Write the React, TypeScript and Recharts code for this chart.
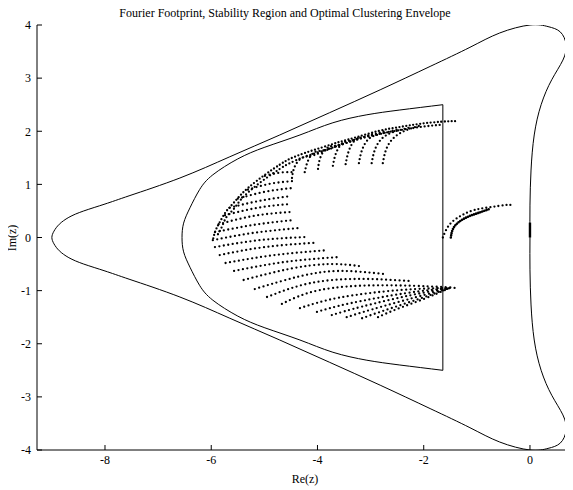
import React from "react";
import { ComposedChart, Line, XAxis, YAxis } from "recharts";

interface Pt {
	x: number;
	y: number;
}

const xTicks = [-8, -6, -4, -2, 0];
const yTicks = [-4, -3, -2, -1, 0, 1, 2, 3, 4];

// stability region boundary (outer curve)
const stabilityBoundary: Pt[] = [
	{ x: 0, y: 0 }, { x: 0, y: 0.61 }, { x: 0.02, y: 1.27 }, { x: 0.08, y: 1.93 },
	{ x: 0.21, y: 2.5 }, { x: 0.41, y: 2.97 }, { x: 0.62, y: 3.34 }, { x: 0.68, y: 3.63 },
	{ x: 0.57, y: 3.87 }, { x: 0.34, y: 3.97 }, { x: 0, y: 4 }, { x: -0.57, y: 3.85 },
	{ x: -1.13, y: 3.58 }, { x: -1.88, y: 3.22 }, { x: -2.82, y: 2.78 }, { x: -3.77, y: 2.35 },
	{ x: -4.71, y: 1.93 }, { x: -5.65, y: 1.52 }, { x: -6.59, y: 1.12 }, { x: -7.53, y: 0.79 },
	{ x: -8.0, y: 0.63 }, { x: -8.4, y: 0.5 }, { x: -8.68, y: 0.38 }, { x: -8.86, y: 0.25 },
	{ x: -8.96, y: 0.12 }, { x: -9.0, y: 0 },
	{ x: -8.96, y: -0.12 }, { x: -8.86, y: -0.25 }, { x: -8.68, y: -0.38 }, { x: -8.4, y: -0.5 },
	{ x: -8.0, y: -0.63 }, { x: -7.53, y: -0.79 },
	{ x: -6.59, y: -1.12 }, { x: -5.65, y: -1.52 }, { x: -4.71, y: -1.93 }, { x: -3.77, y: -2.35 },
	{ x: -2.82, y: -2.78 }, { x: -1.88, y: -3.22 }, { x: -1.13, y: -3.58 }, { x: -0.57, y: -3.85 },
	{ x: 0, y: -4 }, { x: 0.34, y: -3.97 }, { x: 0.57, y: -3.87 }, { x: 0.68, y: -3.63 },
	{ x: 0.62, y: -3.34 }, { x: 0.41, y: -2.97 }, { x: 0.21, y: -2.5 }, { x: 0.08, y: -1.93 },
	{ x: 0.02, y: -1.27 }, { x: 0, y: -0.61 }, { x: 0, y: 0 },
];

// optimal clustering envelope
const envelopeCurve: Pt[] = [
	{ x: -1.64, y: 2.5 }, { x: -2.45, y: 2.4 }, { x: -3.07, y: 2.31 }, { x: -3.71, y: 2.16 },
	{ x: -4.33, y: 1.93 }, { x: -4.99, y: 1.7 }, { x: -5.5, y: 1.48 }, { x: -5.97, y: 1.18 },
	{ x: -6.22, y: 0.9 }, { x: -6.4, y: 0.56 }, { x: -6.52, y: 0.27 }, { x: -6.55, y: 0 },
	{ x: -6.52, y: -0.27 }, { x: -6.4, y: -0.56 }, { x: -6.22, y: -0.9 }, { x: -5.97, y: -1.18 },
	{ x: -5.5, y: -1.48 }, { x: -4.99, y: -1.7 }, { x: -4.33, y: -1.93 }, { x: -3.71, y: -2.16 },
	{ x: -3.07, y: -2.31 }, { x: -2.45, y: -2.4 }, { x: -1.64, y: -2.5 },
];
const envelopeEdge: Pt[] = [{ x: -1.64, y: 2.5 }, { x: -1.64, y: -2.5 }];

// fourier footprint
const rimOuter: Pt[] = [
	{ x: -1.41, y: 2.19 }, { x: -1.66, y: 2.18 }, { x: -2.07, y: 2.14 }, { x: -2.45, y: 2.08 },
	{ x: -2.83, y: 2.01 }, { x: -3.26, y: 1.89 }, { x: -3.58, y: 1.8 }, { x: -3.9, y: 1.7 },
	{ x: -4.24, y: 1.59 }, { x: -4.52, y: 1.48 }, { x: -4.71, y: 1.37 }, { x: -4.99, y: 1.18 },
	{ x: -5.31, y: 0.93 }, { x: -5.5, y: 0.74 }, { x: -5.65, y: 0.57 }, { x: -5.74, y: 0.46 },
	{ x: -5.86, y: 0.25 }, { x: -5.93, y: 0.1 }, { x: -5.97, y: -0.05 },
];
const rimInner: Pt[] = [
	{ x: -1.7, y: 2.12 }, { x: -2.07, y: 2.08 }, { x: -2.45, y: 2.02 }, { x: -2.83, y: 1.95 },
	{ x: -3.26, y: 1.84 }, { x: -3.58, y: 1.74 }, { x: -3.9, y: 1.63 }, { x: -4.24, y: 1.52 },
	{ x: -4.52, y: 1.4 }, { x: -4.71, y: 1.29 }, { x: -4.99, y: 1.1 }, { x: -5.27, y: 0.88 },
	{ x: -5.46, y: 0.69 }, { x: -5.59, y: 0.52 }, { x: -5.71, y: 0.39 }, { x: -5.8, y: 0.2 },
	{ x: -5.88, y: 0.05 },
];

const hangingArcs: Pt[][] = [
	[{ x: -4.48, y: 1.12 }, { x: -4.43, y: 1.33 }, { x: -4.29, y: 1.5 }, { x: -4.07, y: 1.55 }, { x: -3.73, y: 1.7 }],
	[{ x: -4.24, y: 1.23 }, { x: -4.18, y: 1.44 }, { x: -4.05, y: 1.61 }, { x: -3.82, y: 1.65 }, { x: -3.48, y: 1.8 }],
	[{ x: -3.99, y: 1.29 }, { x: -3.94, y: 1.52 }, { x: -3.8, y: 1.7 }, { x: -3.58, y: 1.74 }, { x: -3.24, y: 1.87 }],
	[{ x: -3.71, y: 1.35 }, { x: -3.65, y: 1.59 }, { x: -3.52, y: 1.78 }, { x: -3.3, y: 1.84 }, { x: -2.96, y: 1.95 }],
	[{ x: -3.47, y: 1.38 }, { x: -3.41, y: 1.63 }, { x: -3.28, y: 1.84 }, { x: -3.05, y: 1.91 }, { x: -2.71, y: 2.01 }],
	[{ x: -3.22, y: 1.4 }, { x: -3.16, y: 1.65 }, { x: -3.03, y: 1.86 }, { x: -2.81, y: 1.95 }, { x: -2.47, y: 2.04 }],
	[{ x: -2.98, y: 1.4 }, { x: -2.92, y: 1.65 }, { x: -2.79, y: 1.86 }, { x: -2.56, y: 1.99 }, { x: -2.22, y: 2.08 }],
	[{ x: -2.77, y: 1.4 }, { x: -2.71, y: 1.65 }, { x: -2.58, y: 1.86 }, { x: -2.35, y: 2.01 }, { x: -2.02, y: 2.12 }],
];

const footprintRows: Pt[][] = [
	[{ x: -4.99, y: 1.16 }, { x: -4.71, y: 1.22 }, { x: -4.48, y: 1.23 }],
	[{ x: -5.31, y: 0.9 }, { x: -4.9, y: 1.01 }, { x: -4.48, y: 1.06 }],
	[{ x: -5.5, y: 0.73 }, { x: -4.99, y: 0.86 }, { x: -4.48, y: 0.93 }],
	[{ x: -5.65, y: 0.56 }, { x: -5.09, y: 0.69 }, { x: -4.5, y: 0.78 }],
	[{ x: -5.74, y: 0.42 }, { x: -5.12, y: 0.56 }, { x: -4.52, y: 0.63 }],
	[{ x: -5.86, y: 0.25 }, { x: -5.18, y: 0.41 }, { x: -4.5, y: 0.48 }],
	[{ x: -5.93, y: 0.1 }, { x: -5.18, y: 0.24 }, { x: -4.43, y: 0.33 }],
	[{ x: -5.97, y: -0.05 }, { x: -5.18, y: 0.09 }, { x: -4.33, y: 0.18 }],
	[{ x: -5.93, y: -0.18 }, { x: -5.09, y: -0.05 }, { x: -4.2, y: 0.01 }],
	[{ x: -5.84, y: -0.33 }, { x: -4.99, y: -0.18 }, { x: -4.05, y: -0.1 }],
	[{ x: -5.73, y: -0.48 }, { x: -4.8, y: -0.33 }, { x: -3.82, y: -0.24 }],
	[{ x: -5.57, y: -0.63 }, { x: -4.61, y: -0.46 }, { x: -3.62, y: -0.37 }],
	[{ x: -5.39, y: -0.8 }, { x: -4.52, y: -0.59 }, { x: -3.77, y: -0.5 }, { x: -3.2, y: -0.54 }],
	[{ x: -5.18, y: -0.97 }, { x: -4.33, y: -0.73 }, { x: -3.58, y: -0.63 }, { x: -2.73, y: -0.69 }],
	[{ x: -4.95, y: -1.12 }, { x: -4.14, y: -0.86 }, { x: -3.2, y: -0.78 }, { x: -2.26, y: -0.82 }],
	[{ x: -4.67, y: -1.25 }, { x: -3.96, y: -0.99 }, { x: -2.83, y: -0.9 }, { x: -1.7, y: -0.93 }, { x: -1.41, y: -0.95 }],
];

const lowerArcs: Pt[][] = [
	[{ x: -4.33, y: -1.33 }, { x: -3.58, y: -1.13 }, { x: -2.45, y: -0.99 }, { x: -1.51, y: -0.95 }],
	[{ x: -4.01, y: -1.4 }, { x: -3.39, y: -1.24 }, { x: -2.35, y: -1.05 }, { x: -1.51, y: -0.95 }],
	[{ x: -3.73, y: -1.46 }, { x: -3.16, y: -1.3 }, { x: -2.26, y: -1.09 }, { x: -1.51, y: -0.95 }],
	[{ x: -3.45, y: -1.5 }, { x: -2.96, y: -1.35 }, { x: -2.17, y: -1.13 }, { x: -1.51, y: -0.95 }],
	[{ x: -3.16, y: -1.52 }, { x: -2.73, y: -1.37 }, { x: -2.07, y: -1.15 }, { x: -1.51, y: -0.95 }],
	[{ x: -2.86, y: -1.5 }, { x: -2.51, y: -1.35 }, { x: -1.98, y: -1.15 }, { x: -1.51, y: -0.95 }],
];

const originOuter: Pt[] = [
	{ x: -1.64, y: 0 }, { x: -1.58, y: 0.14 }, { x: -1.47, y: 0.29 }, { x: -1.28, y: 0.42 },
	{ x: -1.04, y: 0.52 }, { x: -0.75, y: 0.57 }, { x: -0.47, y: 0.61 }, { x: -0.34, y: 0.61 },
];
const originInner: Pt[] = [
	{ x: -1.49, y: 0 }, { x: -1.45, y: 0.16 }, { x: -1.34, y: 0.29 }, { x: -1.17, y: 0.39 },
	{ x: -0.98, y: 0.46 }, { x: -0.75, y: 0.54 },
];
const zeroModes: Pt[] = [{ x: 0, y: 0 }, { x: 0, y: 0.28 }];

const serif = "'Liberation Serif', 'Times New Roman', serif";
const tickStyle = { fill: "#000", fontSize: 12, fontFamily: serif };

export default function App() {
	return (
		<div style={{ position: "relative", width: 565, height: 482, fontFamily: serif }}>
			<div
				style={{
					position: "absolute",
					top: -2,
					left: 0,
					width: 554,
					textAlign: "center",
					fontSize: 12,
					lineHeight: "14px",
				}}
			>
				Fourier Footprint, Stability Region and Optimal Clustering Envelope
			</div>
			<div
				style={{
					position: "absolute",
					left: -16,
					top: 223,
					width: 40,
					height: 14,
					lineHeight: "14px",
					textAlign: "center",
					fontSize: 12,
					transform: "rotate(-90deg)",
				}}
			>
				Im(z)
			</div>
			<ComposedChart width={565} height={482} margin={{ top: 17, right: 0, bottom: 0, left: 0 }}>
				<XAxis
					dataKey="x"
					type="number"
					domain={[-9.28, 0.81]}
					allowDataOverflow
					ticks={xTicks}
					tickSize={-5}
					tickMargin={10}
					height={40}
					stroke="#000"
					tick={tickStyle}
					label={{ value: "Re(z)", position: "insideBottom", offset: 7, fill: "#000", fontSize: 12, fontFamily: serif }}
				/>
				<XAxis
					xAxisId="top"
					orientation="top"
					dataKey="x"
					type="number"
					domain={[-9.28, 0.81]}
					allowDataOverflow
					ticks={xTicks}
					tickSize={-5}
					height={0}
					stroke="#000"
					tickFormatter={() => ""}
				/>
				<YAxis
					type="number"
					domain={[-4, 4]}
					allowDataOverflow
					ticks={yTicks}
					tickSize={-5}
					tickMargin={11}
					width={29}
					stroke="#000"
					tick={tickStyle}
				/>

				<Line data={stabilityBoundary} dataKey="y" type="natural" stroke="#000" strokeWidth={1} dot={false} activeDot={false} isAnimationActive={false} />
				<Line data={envelopeCurve} dataKey="y" type="natural" stroke="#000" strokeWidth={1} dot={false} activeDot={false} isAnimationActive={false} />
				<Line data={envelopeEdge} dataKey="y" type="linear" stroke="#000" strokeWidth={1} dot={false} activeDot={false} isAnimationActive={false} />

				<Line data={rimOuter} dataKey="y" type="natural" stroke="#000" strokeWidth={2.3} strokeDasharray="0 3.5" strokeLinecap="round" dot={false} activeDot={false} isAnimationActive={false} />
				<Line data={rimInner} dataKey="y" type="natural" stroke="#000" strokeWidth={2.3} strokeDasharray="0 3.8" strokeLinecap="round" dot={false} activeDot={false} isAnimationActive={false} />
				{hangingArcs.map((arc, i) => (
					<Line key={"h" + i} data={arc} dataKey="y" type="natural" stroke="#000" strokeWidth={2.3} strokeDasharray="0 4" strokeLinecap="round" dot={false} activeDot={false} isAnimationActive={false} />
				))}
				{footprintRows.map((row, i) => (
					<Line key={"r" + i} data={row} dataKey="y" type="natural" stroke="#000" strokeWidth={2.3} strokeDasharray="0 4.5" strokeLinecap="round" dot={false} activeDot={false} isAnimationActive={false} />
				))}
				{lowerArcs.map((arc, i) => (
					<Line key={"l" + i} data={arc} dataKey="y" type="natural" stroke="#000" strokeWidth={2.3} strokeDasharray="0 4.5" strokeLinecap="round" dot={false} activeDot={false} isAnimationActive={false} />
				))}
				<Line data={originOuter} dataKey="y" type="natural" stroke="#000" strokeWidth={2.3} strokeDasharray="0 4" strokeLinecap="round" dot={false} activeDot={false} isAnimationActive={false} />
				<Line data={originInner} dataKey="y" type="natural" stroke="#000" strokeWidth={2.6} strokeDasharray="0 2.2" strokeLinecap="round" dot={false} activeDot={false} isAnimationActive={false} />
				<Line data={zeroModes} dataKey="y" type="linear" stroke="#000" strokeWidth={2.4} dot={false} activeDot={false} isAnimationActive={false} />
			</ComposedChart>
		</div>
	);
}
